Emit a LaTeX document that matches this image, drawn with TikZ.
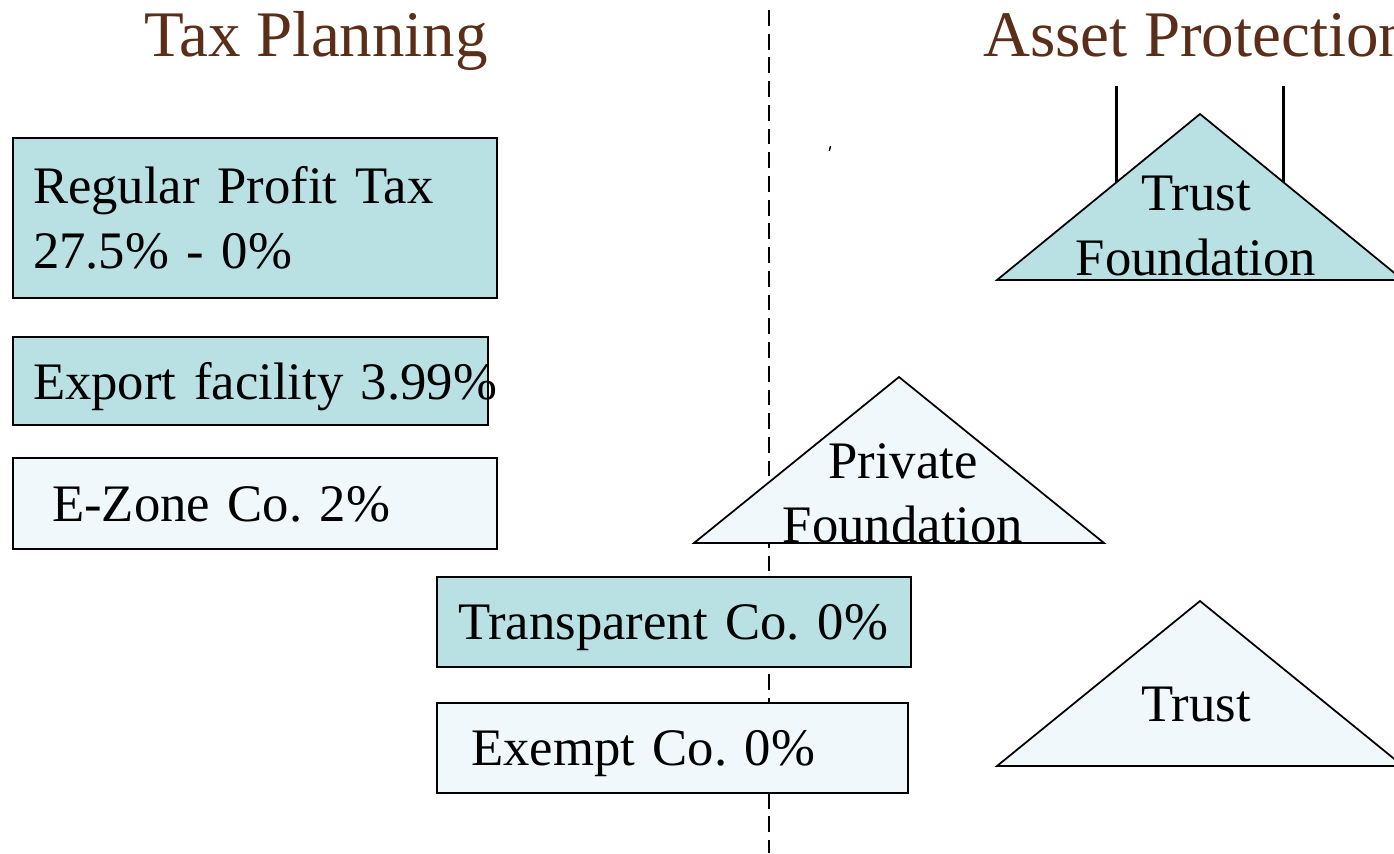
\documentclass[tikz,border=0pt]{standalone}
\usepackage{fontspec}
\setmainfont{Liberation Serif}
\usepackage{xcolor}
\usepackage{tikz}
\definecolor{boxteal}{RGB}{185,224,227}
\definecolor{boxpale}{RGB}{240,248,251}
\definecolor{titlebrown}{RGB}{90,46,24}
\frenchspacing
\tikzset{
  tp_box/.style = {rectangle, draw=black, line width=1pt, align=left,
    inner ysep=0pt, font=\fontsize{30}{37}\selectfont},
  tp_line/.style = {text depth=0pt},% une seule ligne
  tp_full/.style = {tp_box, fill=boxteal},% boite pleine
  tp_pale/.style = {tp_box, fill=boxpale},% boite claire
  ap_tri/.style = {draw=black, line width=1pt, line join=miter},
  ap_txt/.style = {align=center, inner sep=0pt, font=\fontsize{30}{36.5}\selectfont},
  hd_title/.style = {inner sep=0pt, text=titlebrown, font=\fontsize{37}{40}\selectfont}
}

\begin{document}
\begin{tikzpicture}[x=0.02cm, y=-0.02cm]
\useasboundingbox (0,0) rectangle (1394,853);
% dividing line
\coordinate (divtop) at (769,10);
\coordinate (divbot) at (769,853);
\draw [line width=1.1pt, dash pattern=on 9pt off 4.5pt] (divtop) -- (divbot);
% titles
\node [hd_title, anchor=base] (tp) at (316,56) {Tax Planning};
\node [hd_title, anchor=base west] (ap) at (983,56) {Asset Protection};
% tax planning boxes
\node [tp_full, inner xsep=0.4cm, text width=8.88cm, minimum height=3.2cm]
  (rpt) at (255,218) {Regular Profit Tax\\27.5\% - 0\%};
\node [tp_full, tp_line, inner xsep=0.4cm, text width=8.7cm, minimum height=1.76cm]
  (exp) at (250.5,381) {\mbox{Export facility 3.99\%}};
\node [tp_pale, tp_line, inner xsep=0.78cm, text width=8.12cm, minimum height=1.82cm]
  (ezn) at (255,503.5) {\mbox{E-Zone Co. 2\%}};
\node [tp_full, tp_line, inner xsep=0.42cm, text width=8.64cm, minimum height=1.8cm]
  (trn) at (674,622) {\mbox{Transparent Co. 0\%}};
\node [tp_pale, tp_line, inner xsep=0.68cm, text width=8.06cm, minimum height=1.8cm]
  (exm) at (672.5,748) {\mbox{Exempt Co. 0\%}};
% asset protection
\coordinate (tfA) at (1200,114);
\coordinate (tfB) at (997,280);
\coordinate (tfC) at (1403,280);
\coordinate (tfL) at (1116,86);
\coordinate (tfR) at (1283,86);
\draw [line width=1.7pt] (tfL) -- (tfL |- tfB);
\draw [line width=1.7pt] (tfR) -- (tfR |- tfB);
\filldraw [ap_tri, fill=boxteal] (tfB) -- (tfA) -- (tfC) -- cycle;
\node [ap_txt] (tf) at (1196,226) {Trust\\Foundation};
\coordinate (pfA) at (899,377);
\coordinate (pfB) at (694,543);
\coordinate (pfC) at (1104,543);
\filldraw [ap_tri, fill=boxpale] (pfB) -- (pfA) -- (pfC) -- cycle;
\node [ap_txt] (pf) at (903,493.5) {Private\\Foundation};
\coordinate (trA) at (1200,601);
\coordinate (trB) at (997,766);
\coordinate (trC) at (1403,766);
\filldraw [ap_tri, fill=boxpale] (trB) -- (trA) -- (trC) -- cycle;
\node [ap_txt] (tr) at (1196,704.5) {Trust};
% stray tick
\coordinate (tk1) at (829.3,151);
\coordinate (tk2) at (830.5,146);
\draw [line width=0.8pt] (tk1) -- (tk2);
\end{tikzpicture}
\end{document}
